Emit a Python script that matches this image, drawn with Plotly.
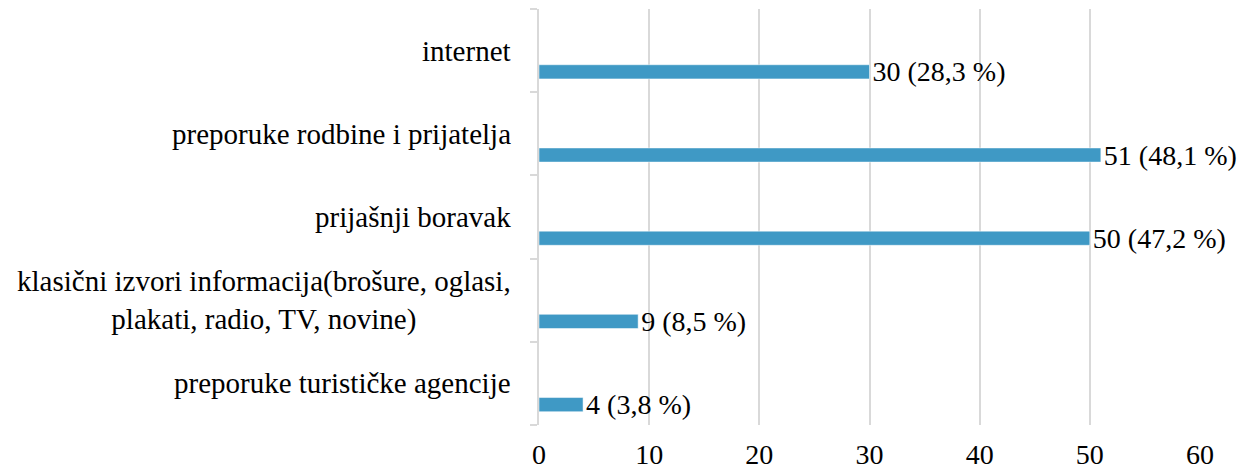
import plotly.graph_objects as go

categories = [
    'preporuke turističke agencije',
    'klasični izvori informacija(brošure, oglasi,<br>plakati, radio, TV, novine)',
    'prijašnji boravak',
    'preporuke rodbine i prijatelja',
    'internet',
]
counts = [4, 9, 50, 51, 30]
percents = ['3,8', '8,5', '47,2', '48,1', '28,3']
x_ticks = [0, 10, 20, 30, 40, 50, 60]

labels = [f'{c} ({p} %)' for c, p in zip(counts, percents)]

serif = 'Times New Roman, Liberation Serif, serif'

fig = go.Figure(go.Bar(
    x=counts,
    y=categories,
    orientation='h',
    width=0.17,
    offset=-0.34,
    marker_color='#3f99c5',
    text=labels,
    textposition='outside',
    constraintext='none',
    cliponaxis=False,
    textfont=dict(family=serif, size=28, color='black'),
))

# category names as centred annotations (the long one is centred on two lines)
for cat in categories:
    fig.add_annotation(
        x=0, xref='paper', y=cat, yref='y',
        text=cat, showarrow=False,
        xanchor='right', align='center', xshift=-26,
        font=dict(family=serif, size=29, color='black'),
    )

# page body has an 8px margin, so margins are shifted to compensate
fig.update_layout(
    template='plotly_white',
    width=1245,
    height=472,
    margin=dict(l=531, r=53, t=1, b=55, autoexpand=False),
    font=dict(family=serif, size=28, color='black'),
    showlegend=False,
    xaxis=dict(
        range=[0, 60],
        tickvals=x_ticks,
        showgrid=True,
        gridcolor='#d9d9d9',
        gridwidth=1.5,
        zeroline=False,
        showline=False,
        ticklabelstandoff=10,
        automargin=False,
    ),
    yaxis=dict(
        range=[-0.5, 4.5],
        showgrid=False,
        showline=True,
        linecolor='#d9d9d9',
        linewidth=1.5,
        ticks='outside',
        tickson='boundaries',
        ticklen=7,
        tickcolor='#d9d9d9',
        tickwidth=1.5,
        showticklabels=False,
        automargin=False,
    ),
)

fig.write_html('out.html')
